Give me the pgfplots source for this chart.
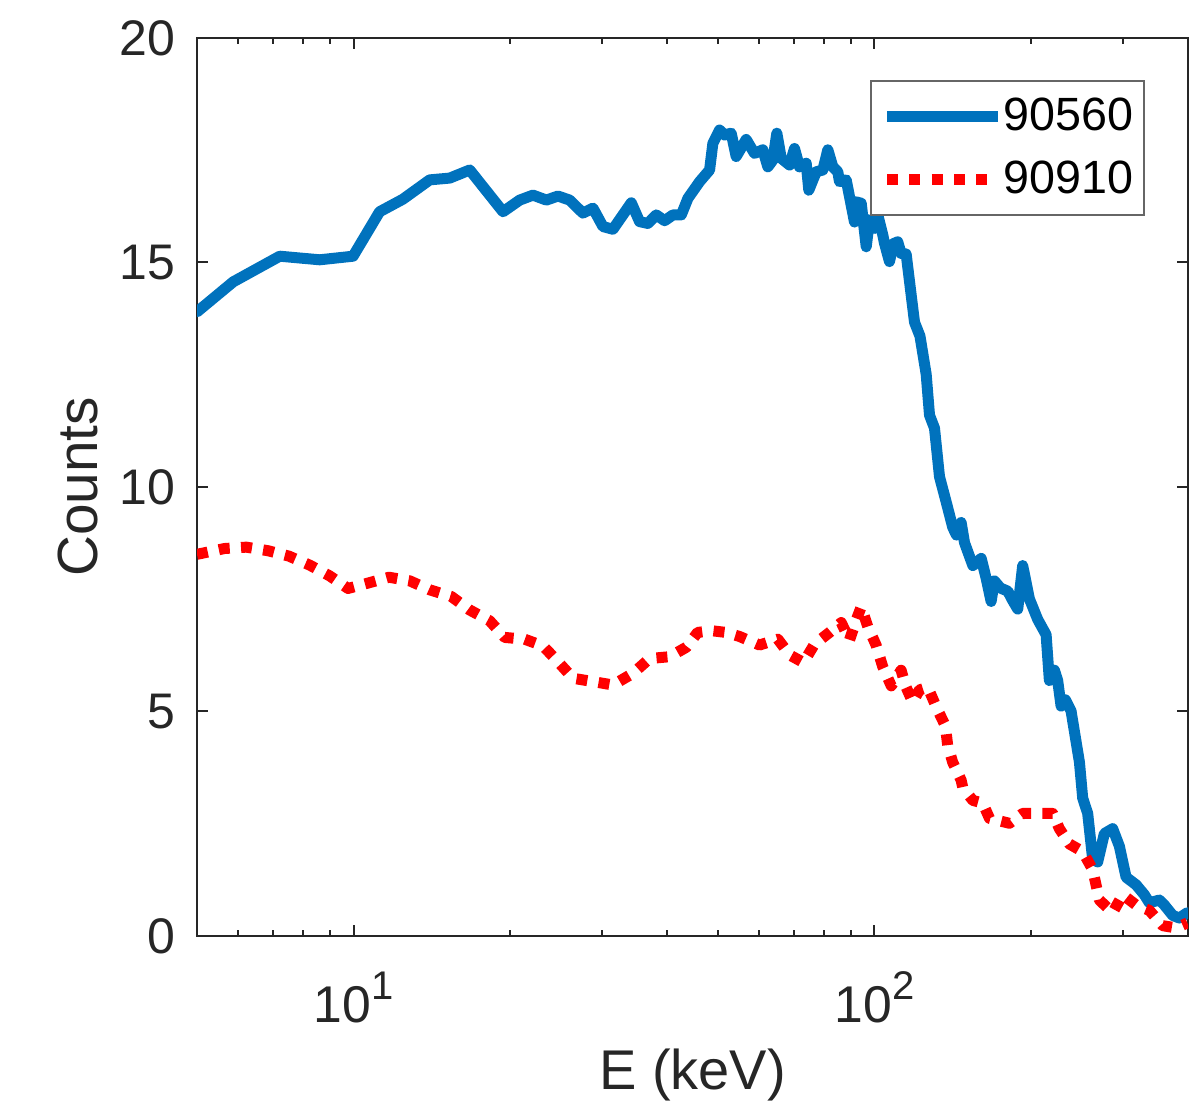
\documentclass[border=0pt]{standalone}
\usepackage{pgfplots}
\pgfplotsset{compat=1.18}
\usepackage{fontspec}
\setmainfont{Liberation Sans}
\definecolor{specblue}{rgb}{0,0.447,0.741}
\definecolor{axgray}{rgb}{0.15,0.15,0.15}

\pgfplotstableread{
x y
5.00 13.90
5.87 14.57
7.21 15.14
8.60 15.06
9.97 15.14
11.21 16.13
12.43 16.41
13.99 16.84
15.29 16.88
16.70 17.06
19.35 16.13
20.83 16.39
22.09 16.50
23.44 16.39
24.67 16.48
25.97 16.39
27.55 16.10
28.80 16.21
30.10 15.80
31.46 15.74
34.12 16.33
35.39 15.91
36.72 15.87
38.11 16.06
39.54 15.93
41.02 16.06
42.56 16.06
43.83 16.43
46.15 16.80
48.23 17.06
48.93 17.65
50.40 17.95
51.52 17.84
53.07 17.88
54.25 17.36
56.70 17.74
58.83 17.43
61.03 17.51
62.40 17.13
63.80 17.28
64.94 17.88
66.22 17.32
68.70 17.17
70.22 17.54
71.78 17.13
73.94 17.21
74.80 16.61
77.29 17.02
79.58 17.06
81.36 17.51
83.18 17.13
85.03 17.02
85.66 16.80
88.25 16.84
91.54 15.90
92.25 16.35
94.30 16.32
96.41 15.35
97.82 15.95
100.0 15.76
101.46 16.06
103.75 15.61
104.52 15.43
106.85 15.02
108.76 15.42
110.83 15.46
112.50 15.20
115.03 15.19
117.60 14.28
119.36 13.67
122.28 13.36
125.68 12.51
127.54 11.60
130.39 11.31
133.30 10.23
137.28 9.67
141.35 9.10
143.7 8.93
146.7 9.21
148.9 8.76
154.5 8.25
160.3 8.41
163.9 7.96
167.5 7.45
169.9 7.91
174.5 7.75
180.3 7.68
184.1 7.48
188.4 7.28
192.6 8.25
198.4 7.51
205.8 7.05
213.6 6.71
216.7 5.69
221.6 5.92
224.8 5.69
228.2 5.12
232.6 5.26
238.5 5.01
247.5 3.87
251.1 3.07
256.7 2.73
262.4 1.71
268.3 1.65
276.3 2.28
286.7 2.39
295.3 2.00
304.2 1.31
318.0 1.14
329.8 0.92
337.2 0.74
352.4 0.80
360.3 0.69
373.8 0.46
384.9 0.40
398.9 0.52
}\runA

\pgfplotstableread{
x y
5.00 8.50
5.65 8.63
6.22 8.66
6.85 8.58
7.51 8.46
8.23 8.26
8.99 8.02
9.75 7.74
10.65 7.86
11.69 7.99
12.81 7.91
13.99 7.71
15.40 7.56
16.70 7.26
18.24 7.02
19.49 6.65
21.29 6.61
23.09 6.46
24.67 6.11
26.36 5.74
29.01 5.66
31.46 5.59
34.37 5.85
37.00 6.18
40.42 6.22
43.51 6.43
45.75 6.76
48.60 6.80
51.93 6.76
55.07 6.67
60.15 6.48
65.24 6.61
68.70 6.26
73.06 6.09
76.71 6.50
81.95 6.76
86.33 6.98
89.54 6.59
92.25 7.04
94.30 7.33
97.08 6.89
100.7 6.48
103.7 6.00
107.7 5.57
112.5 5.92
114.7 5.57
118.4 5.21
122.0 5.48
126.6 5.54
131.3 5.11
136.8 4.68
138.2 4.25
141.3 3.87
146.7 3.47
147.8 3.30
154.5 3.02
161.4 2.96
166.3 2.62
181.6 2.51
192.6 2.73
204.3 2.73
219.9 2.73
226.5 2.39
236.7 2.05
251.1 1.88
262.4 1.48
270.3 0.80
286.7 0.52
299.7 0.92
318.0 0.69
337.2 0.57
357.6 0.23
379.4 0.18
398.9 0.29
}\runB

% decade labels with a larger, raised exponent
\newcommand{\decade}[1]{10\raisebox{6.9pt}{\fontsize{12}{12}\selectfont #1}}

\begin{document}
\begin{tikzpicture}
\begin{semilogxaxis}[
  at={(0pt,0pt)}, anchor=south west,
  scale only axis, width=297.3pt, height=269.4pt,
  xmin=5, xmax=400, ymin=0, ymax=20,
  xtick={10,100},
  xticklabels={\decade{1},\decade{2}},
  minor xtick={6,7,8,9,20,30,40,50,60,70,80,90,200,300},
  ytick={0,5,10,15,20},
  yticklabels={0,5,10,15,20},
  tick align=inside,
  major tick length=3.3pt, minor tick length=1.8pt,
  axis line style={axgray, line width=0.6pt},
  tick style={axgray, line width=0.6pt},
  xticklabel style={font=\fontsize{15.5}{18}\selectfont, text=axgray, anchor=base, inner sep=0pt, yshift=-26.1pt},
  yticklabel style={font=\fontsize{15}{18}\selectfont, text=axgray, anchor=east, inner sep=0pt, xshift=-6.3pt},
  xlabel={E (keV)},
  ylabel={Counts},
  xlabel style={font=\fontsize{16.8}{20}\selectfont, text=axgray, at={(axis description cs:0.5,-0.155)}, anchor=center},
  ylabel style={font=\fontsize{17}{20}\selectfont, text=axgray, at={(axis description cs:-0.1201,0.5)}, anchor=center},
  legend style={at={(1,1)}, anchor=north east, xshift=-12.9pt, yshift=-12.6pt,
    draw=black!60, line width=0.6pt, fill=white,
    inner xsep=3.2pt, inner ysep=5pt, row sep=7.7pt,
    font=\fontsize{14}{16}\selectfont, text=black,
    nodes={inner sep=0pt},
    cells={anchor=west},
    /tikz/every even column/.append style={column sep=2.4pt}},
  legend image code/.code={\draw[#1, line cap=butt] (0pt,0pt) -- (33.3pt,0pt);},
]
\addplot[specblue, line width=3.3pt, line join=round, line cap=round] table {\runA};
\addlegendentry{90560}
\addplot[red, line width=3.3pt, line join=round, line cap=butt, dash pattern=on 3.3pt off 3.4pt] table {\runB};
\addlegendentry{90910}
\end{semilogxaxis}
\pgfresetboundingbox
\useasboundingbox (-59.1pt,-53.7pt) rectangle (300pt,280.8pt);
\end{tikzpicture}
\end{document}
